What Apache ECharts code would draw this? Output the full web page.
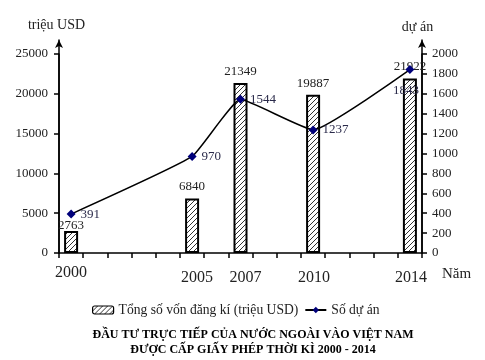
<!DOCTYPE html>
<html><head><meta charset="utf-8">
<script src="https://cdn.jsdelivr.net/npm/echarts@6/dist/echarts.min.js"></script>
<style>html,body{margin:0;padding:0;background:#fff}#c{width:485px;height:360px}</style>
</head><body><div id="c"></div>
<script>
var categories = ['2000','2001','2002','2003','2004','2005','2006','2007','2008','2009','2010','2011','2012','2013','2014'];
var years = ['2000','2005','2007','2010','2014'];
var capital = [2763, 6840, 21349, 19887, 21922];
var projects = [391, 970, 1544, 1237, 1843];
var leftTicks = [0, 25000, 5000];
var rightTicks = [0, 2000, 200];

var FONT = '"Liberation Serif", "Times New Roman", serif';

function hatch() {
  var n = 5;
  var c = document.createElement('canvas');
  c.width = n; c.height = n;
  var g = c.getContext('2d');
  g.fillStyle = '#fff'; g.fillRect(0,0,n,n);
  g.strokeStyle = '#333'; g.lineWidth = 1;
  g.beginPath();
  g.moveTo(-1,n+1); g.lineTo(n+1,-1);
  g.moveTo(-1,1); g.lineTo(1,-1);
  g.moveTo(n-1,n+1); g.lineTo(n+1,n-1);
  g.stroke();
  return c;
}
var pat = {image: hatch(), repeat: 'repeat'};

var barData = categories.map(function(c){
  var i = years.indexOf(c);
  if (i < 0) return null;
  var item = {value: capital[i]};
  if (c === '2000') item.label = {distance: -1};
  return item;
});
var lineData = categories.map(function(c){
  var i = years.indexOf(c);
  if (i < 0) return null;
  var item = {value: projects[i]};
  if (c === '2014') item.label = {position: 'bottom', distance: 10, offset: [-4, 0]};
  return item;
});

var chart = echarts.init(document.getElementById('c'));
chart.setOption({
  animation: false,
  textStyle: {fontFamily: FONT},
  title: {
    text: 'ĐẦU TƯ TRỰC TIẾP CỦA NƯỚC NGOÀI VÀO VIỆT NAM\nĐƯỢC CẤP GIẤY PHÉP THỜI KÌ 2000 - 2014',
    left: 248, top: 322, textAlign: 'center',
    textStyle: {fontFamily: FONT, fontSize: 12, fontWeight: 'bold', color: '#000', lineHeight: 15}
  },
  legend: {
    left: 87, top: 298, itemGap: 6, itemWidth: 21, itemHeight: 8,
    textStyle: {fontFamily: FONT, fontSize: 13.6, color: '#222'},
    data: [
      {name: 'Tổng số vốn đăng kí (triệu USD)', itemStyle: {color: pat, borderColor: '#000', borderWidth: 1.2}},
      {name: 'Số dự án'}
    ]
  },
  grid: [
    {left: 59, right: 63, top: 54, bottom: 107},
    {left: 59, right: 63, top: 40, bottom: 107}
  ],
  xAxis: [{
    type: 'category', data: categories, gridIndex: 0,
    name: 'Năm', nameLocation: 'end', nameGap: 20,
    nameTextStyle: {fontFamily: FONT, fontSize: 15, color: '#222', verticalAlign: 'top', padding: [14,0,0,0]},
    axisLine: {lineStyle: {color: '#000', width: 1.5}},
    axisTick: {show: true, length: 5, lineStyle: {color: '#000', width: 1.5}},
    axisLabel: {
      interval: 0, margin: 12, color: '#222', fontFamily: FONT,
      formatter: function(v){
        if (v === '2000') return '{a|' + v + '}';
        if (v === '2005' || v === '2007') return '{b|' + v + '}';
        if (years.indexOf(v) >= 0) return '{c|' + v + '}';
        return '';
      },
      rich: {
        a: {fontSize: 16, fontFamily: FONT, color: '#222'},
        b: {fontSize: 16, fontFamily: FONT, color: '#222', padding: [5,0,0,10]},
        c: {fontSize: 16, fontFamily: FONT, color: '#222', padding: [5,0,0,2]}
      }
    }
  }, {
    type: 'value', gridIndex: 1, show: false, min: 0, max: 1
  }],
  yAxis: [{
    type: 'value', gridIndex: 0, min: leftTicks[0], max: leftTicks[1], interval: leftTicks[2],
    name: 'triệu USD', nameLocation: 'end', nameGap: 22,
    nameTextStyle: {fontFamily: FONT, fontSize: 14, color: '#222', align: 'center', padding: [0,5,0,0]},
    axisLine: {show: true, lineStyle: {color: '#000', width: 1.5}},
    axisTick: {show: true, length: 5, lineStyle: {color: '#000', width: 1.5}},
    axisLabel: {fontFamily: FONT, fontSize: 13, color: '#222', margin: 11, formatter: function(v){ return String(v); }},
    splitLine: {show: false}
  }, {
    type: 'value', gridIndex: 0, position: 'right', min: rightTicks[0], max: rightTicks[1], interval: rightTicks[2],
    name: 'dự án', nameLocation: 'end', nameGap: 20,
    nameTextStyle: {fontFamily: FONT, fontSize: 14, color: '#222', align: 'center', padding: [0,9,0,0]},
    axisLine: {show: true, lineStyle: {color: '#000', width: 1.5}},
    axisTick: {show: true, length: 5, lineStyle: {color: '#000', width: 1.5}},
    axisLabel: {fontFamily: FONT, fontSize: 13, color: '#222', margin: 10, formatter: function(v){ return String(v); }},
    splitLine: {show: false}
  }, {
    type: 'value', gridIndex: 1, position: 'left', min: 0, max: 1,
    axisLine: {show: true, symbol: ['none','arrow'], symbolSize: [6, 8], lineStyle: {color: '#000', width: 1.5}},
    axisTick: {show: false}, axisLabel: {show: false}, splitLine: {show: false}
  }, {
    type: 'value', gridIndex: 1, position: 'right', min: 0, max: 1,
    axisLine: {show: true, symbol: ['none','arrow'], symbolSize: [6, 8], lineStyle: {color: '#000', width: 1.5}},
    axisTick: {show: false}, axisLabel: {show: false}, splitLine: {show: false}
  }],
  series: [{
    name: 'Tổng số vốn đăng kí (triệu USD)', type: 'bar', xAxisIndex: 0, yAxisIndex: 0,
    data: barData, barWidth: 14,
    itemStyle: {color: pat, borderColor: '#000', borderWidth: 2},
    label: {show: true, position: 'top', distance: 5, fontFamily: FONT, fontSize: 13, color: '#222'}
  }, {
    name: 'Số dự án', type: 'line', xAxisIndex: 0, yAxisIndex: 1,
    data: lineData, connectNulls: true, smooth: 0.12,
    symbol: 'diamond', symbolSize: 9,
    itemStyle: {color: '#00007a'},
    lineStyle: {color: '#000', width: 1.5},
    label: {show: true, position: 'right', distance: 5, fontFamily: FONT, fontSize: 13, color: '#2a2a4a'},
    z: 5
  }]
});
</script></body></html>
